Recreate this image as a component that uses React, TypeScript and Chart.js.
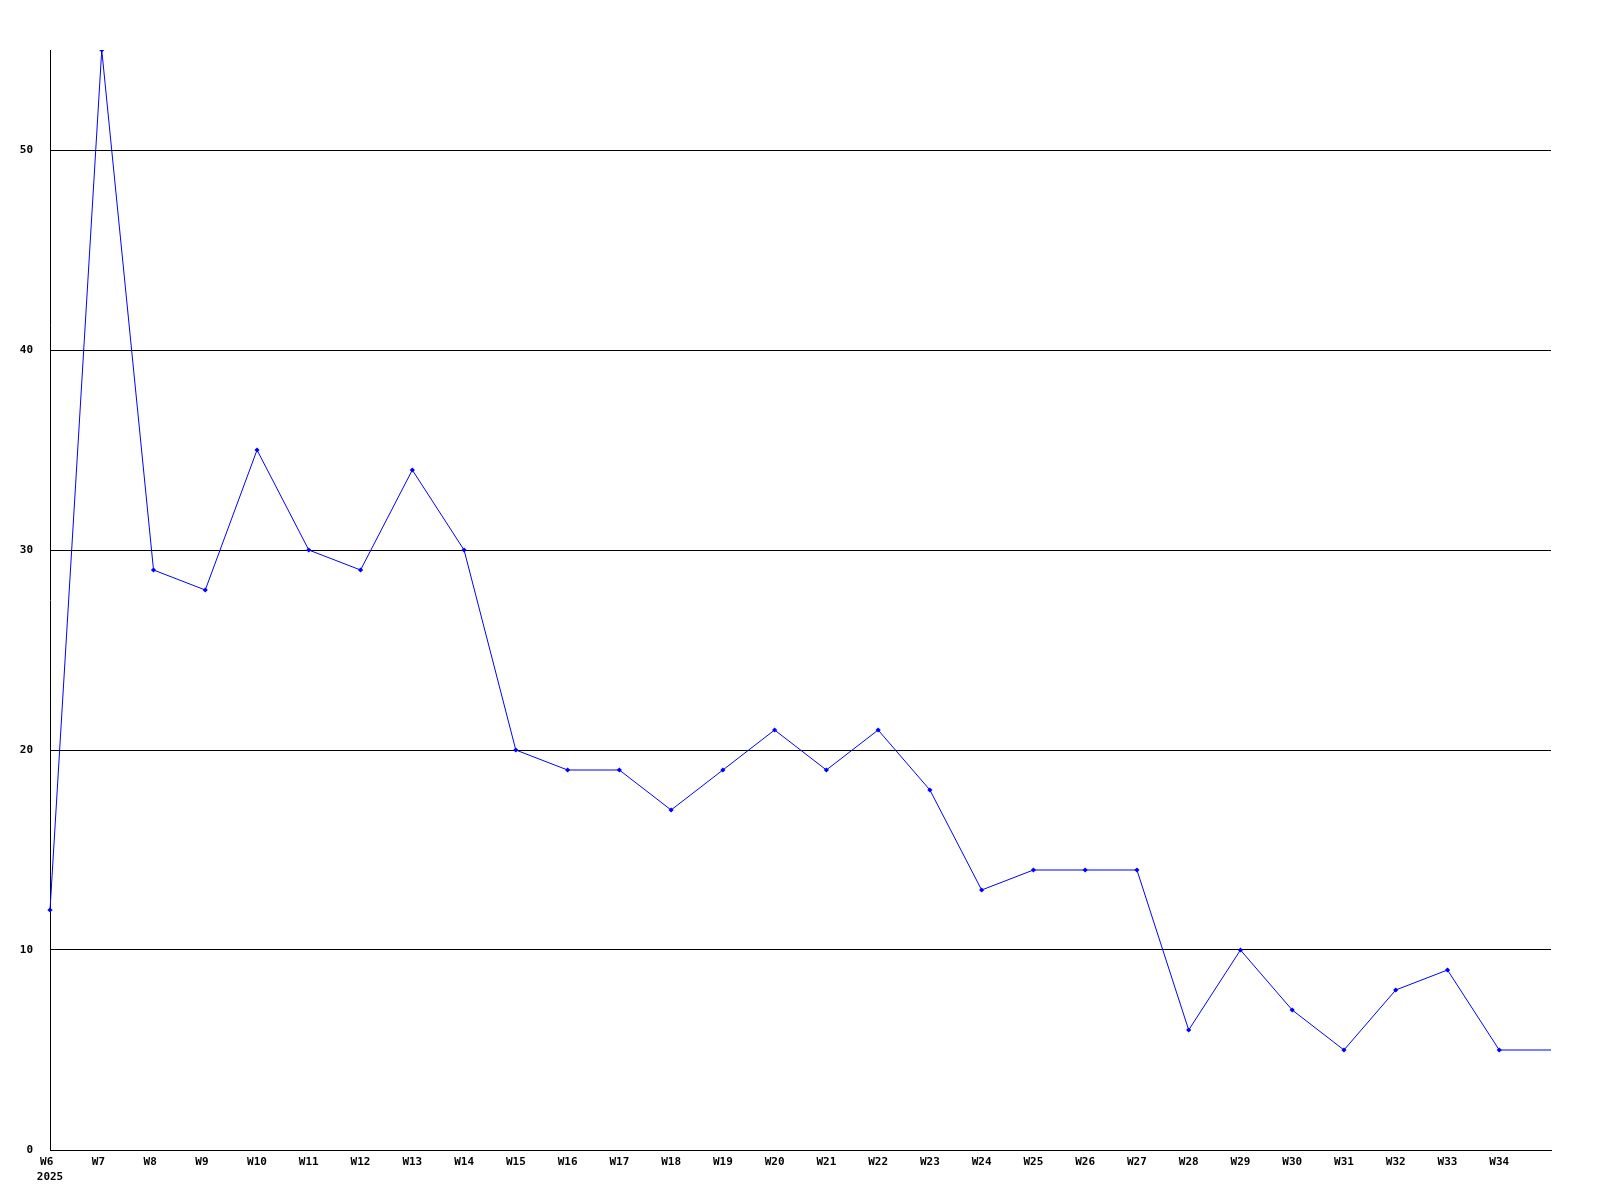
import React, { useEffect, useRef } from "react";
import { Chart, registerables } from "chart.js";

Chart.register(...registerables);

const weekLabels: (string | string[])[] = [
  ["W6 ", "2025"], "W7 ", "W8 ", "W9 ", "W10", "W11", "W12", "W13", "W14", "W15",
  "W16", "W17", "W18", "W19", "W20", "W21", "W22", "W23", "W24", "W25",
  "W26", "W27", "W28", "W29", "W30", "W31", "W32", "W33", "W34", "",
];

const counts: number[] = [
  12, 55, 29, 28, 35, 30, 29, 34, 30, 20,
  19, 19, 17, 19, 21, 19, 21, 18, 13, 14,
  14, 14, 6, 10, 7, 5, 8, 9, 5, 5,
];

const yTicks: number[] = [0, 10, 20, 30, 40, 50];

const FONT = { family: "'DejaVu Sans Mono', monospace", size: 11, weight: "bold" as const, lineHeight: 1.35 };

export default function App() {
  const ref = useRef<HTMLCanvasElement | null>(null);

  useEffect(() => {
    if (!ref.current) return;
    const chart = new Chart(ref.current, {
      type: "line",
      data: {
        labels: weekLabels,
        datasets: [
          {
            data: counts,
            borderColor: "#0000ff",
            backgroundColor: "#0000ff",
            borderWidth: 1,
            pointStyle: "rectRot",
            pointRadius: counts.map((_, i) => (i === counts.length - 1 ? 0 : 2.6)),
            pointBorderWidth: 0,
            tension: 0,
            fill: false,
          },
        ],
      },
      options: {
        animation: false,
        responsive: false,
        maintainAspectRatio: false,
        layout: { padding: { left: 0, right: 49, top: 50, bottom: 0 } },
        plugins: { legend: { display: false }, tooltip: { enabled: false } },
        scales: {
          x: {
            type: "category",
            offset: false,
            grid: { display: false, drawTicks: false },
            border: { display: true, color: "#000000", width: 1 },
            ticks: {
              autoSkip: false,
              maxRotation: 0,
              minRotation: 0,
              padding: 5,
              color: "#000000",
              font: FONT,
            },
            afterFit: (scale: any) => {
              scale.height = 50;
            },
          },
          y: {
            type: "linear",
            min: 0,
            max: 55,
            grid: { color: "#000000", lineWidth: 1, drawTicks: false },
            border: { display: true, color: "#000000", width: 1 },
            ticks: {
              padding: 17,
              color: "#000000",
              font: FONT,
            },
            afterBuildTicks: (scale: any) => {
              scale.ticks = yTicks.map((v) => ({ value: v }));
            },
            afterFit: (scale: any) => {
              scale.width = 50;
            },
          },
        },
      },
    });
    return () => chart.destroy();
  }, []);

  return (
    <div style={{ position: "fixed", left: 0, top: 0, width: 1600, height: 1200, background: "#ffffff" }}>
      <canvas ref={ref} width={1600} height={1200} style={{ width: 1600, height: 1200, display: "block" }} />
    </div>
  );
}
